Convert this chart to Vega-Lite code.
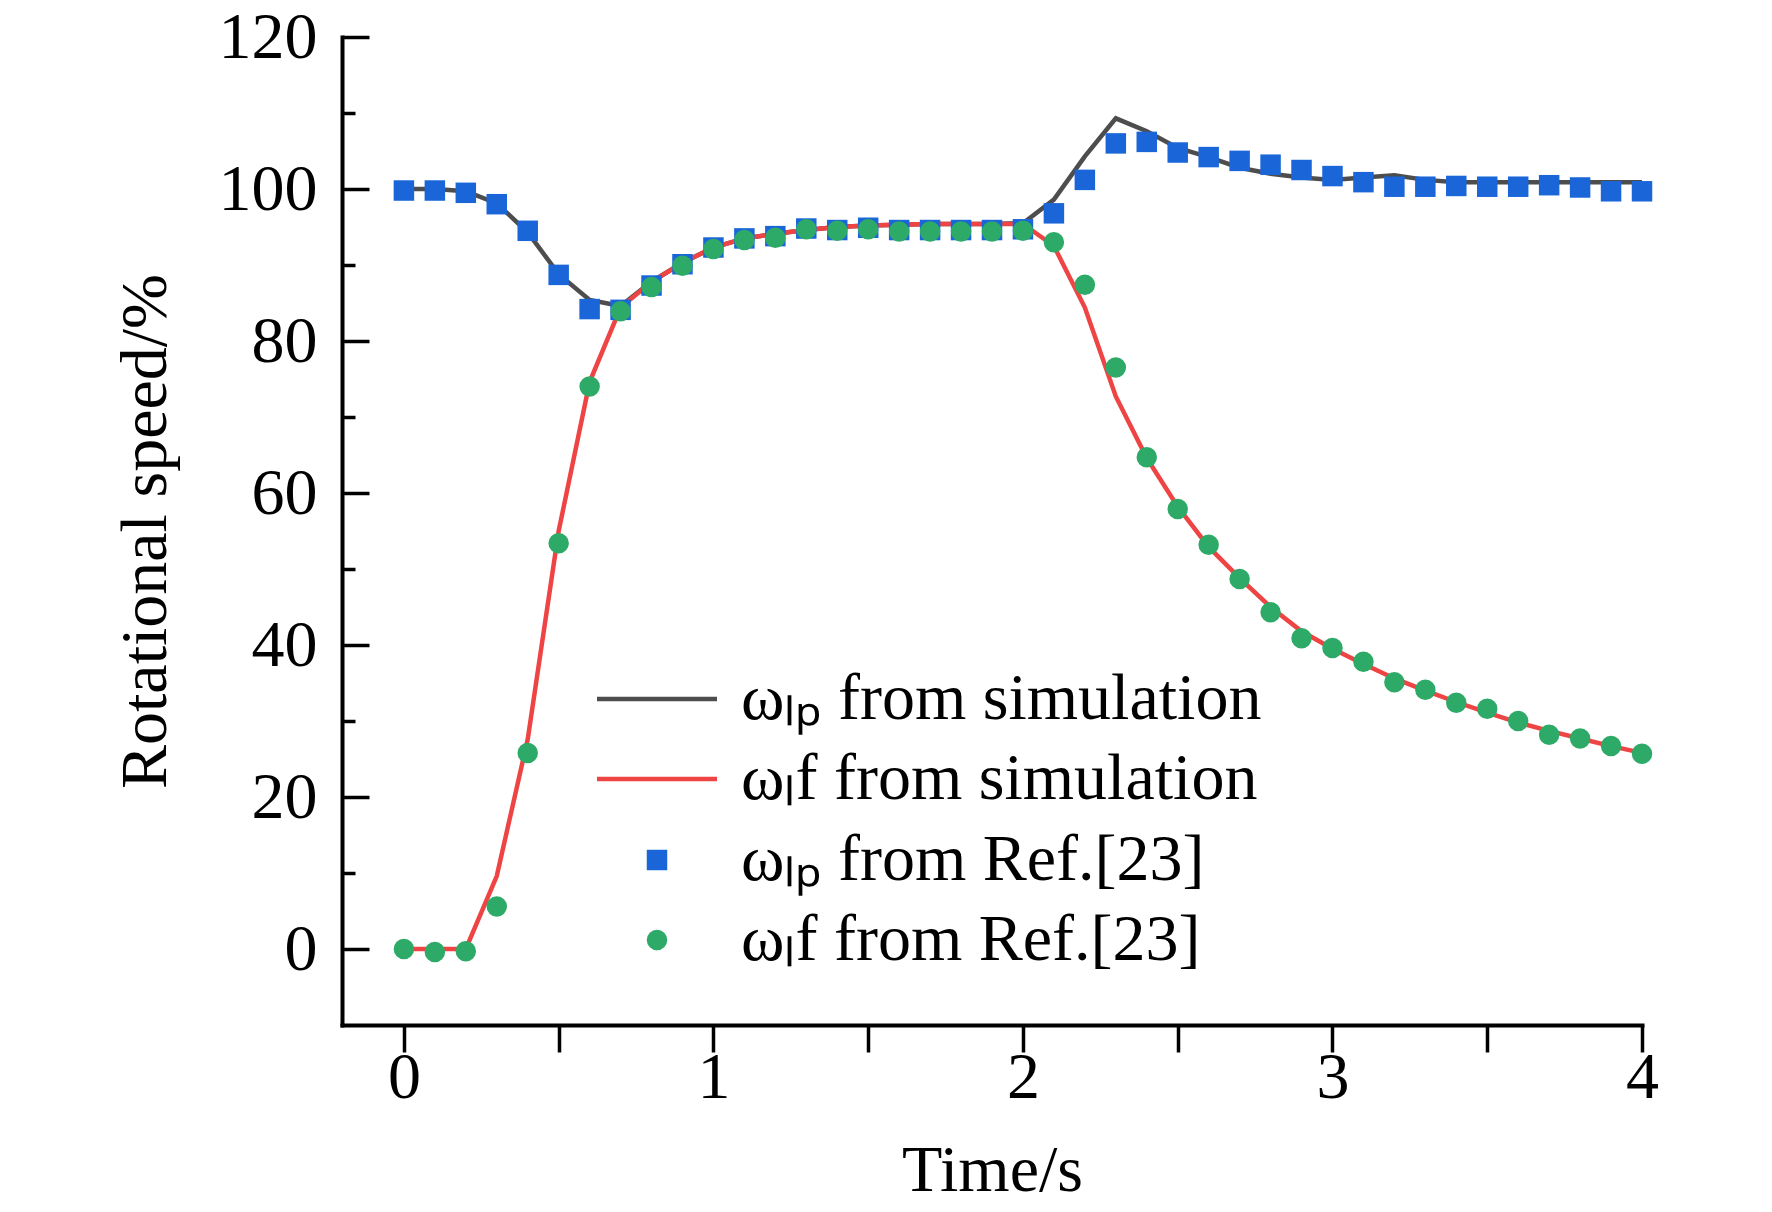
{
  "$schema": "https://vega.github.io/schema/vega-lite/v6.json",
  "width": 1300,
  "height": 988,
  "autosize": {"type": "none"},
  "padding": {"left": 342, "top": 37, "right": 130, "bottom": 187},
  "background": "white",
  "config": {
    "view": {"stroke": null},
    "font": "Liberation Serif",
    "axis": {
      "grid": false,
      "domainColor": "black",
      "domainWidth": 4,
      "domainCap": "square",
      "tickColor": "black",
      "tickWidth": 3.5,
      "labelColor": "black",
      "labelFont": "Liberation Serif",
      "labelFontSize": 66,
      "labelFlush": false,
      "labelOverlap": false,
      "labelBound": false,
      "titleColor": "black",
      "titleFont": "Liberation Serif",
      "titleFontSize": 66,
      "titleFontWeight": "normal"
    },
    "legend": {
      "title": null,
      "orient": "none",
      "padding": 0,
      "labelFont": "Liberation Serif",
      "labelFontSize": 66,
      "labelColor": "black",
      "labelLimit": 1000,
      "labelOffset": 51,
      "rowPadding": 14
    }
  },
  "datasets": {
    "simulation": [
      {"time": 0.0, "speed": 100.0, "series": "lp"},
      {"time": 0.1, "speed": 100.0, "series": "lp"},
      {"time": 0.2, "speed": 99.7, "series": "lp"},
      {"time": 0.3, "speed": 98.1, "series": "lp"},
      {"time": 0.4, "speed": 94.3, "series": "lp"},
      {"time": 0.5, "speed": 88.8, "series": "lp"},
      {"time": 0.6, "speed": 85.4, "series": "lp"},
      {"time": 0.7, "speed": 84.6, "series": "lp"},
      {"time": 0.8, "speed": 87.8, "series": "lp"},
      {"time": 0.9, "speed": 90.3, "series": "lp"},
      {"time": 1.0, "speed": 92.3, "series": "lp"},
      {"time": 1.1, "speed": 93.5, "series": "lp"},
      {"time": 1.2, "speed": 94.1, "series": "lp"},
      {"time": 1.3, "speed": 94.6, "series": "lp"},
      {"time": 1.4, "speed": 95.0, "series": "lp"},
      {"time": 1.5, "speed": 95.2, "series": "lp"},
      {"time": 1.6, "speed": 95.3, "series": "lp"},
      {"time": 1.7, "speed": 95.4, "series": "lp"},
      {"time": 1.8, "speed": 95.4, "series": "lp"},
      {"time": 1.9, "speed": 95.4, "series": "lp"},
      {"time": 2.0, "speed": 95.5, "series": "lp"},
      {"time": 2.1, "speed": 98.6, "series": "lp"},
      {"time": 2.2, "speed": 104.3, "series": "lp"},
      {"time": 2.3, "speed": 109.3, "series": "lp"},
      {"time": 2.4, "speed": 107.6, "series": "lp"},
      {"time": 2.5, "speed": 105.4, "series": "lp"},
      {"time": 2.6, "speed": 104.2, "series": "lp"},
      {"time": 2.7, "speed": 102.8, "series": "lp"},
      {"time": 2.8, "speed": 102.0, "series": "lp"},
      {"time": 2.9, "speed": 101.5, "series": "lp"},
      {"time": 3.0, "speed": 101.2, "series": "lp"},
      {"time": 3.1, "speed": 101.5, "series": "lp"},
      {"time": 3.2, "speed": 101.8, "series": "lp"},
      {"time": 3.3, "speed": 101.2, "series": "lp"},
      {"time": 3.4, "speed": 100.9, "series": "lp"},
      {"time": 3.5, "speed": 100.9, "series": "lp"},
      {"time": 3.6, "speed": 100.9, "series": "lp"},
      {"time": 3.7, "speed": 100.9, "series": "lp"},
      {"time": 3.8, "speed": 100.9, "series": "lp"},
      {"time": 3.9, "speed": 100.9, "series": "lp"},
      {"time": 4.0, "speed": 100.9, "series": "lp"},
      {"time": 0.0, "speed": 0.0, "series": "lf"},
      {"time": 0.1, "speed": 0.0, "series": "lf"},
      {"time": 0.2, "speed": 0.0, "series": "lf"},
      {"time": 0.3, "speed": 9.6, "series": "lf"},
      {"time": 0.4, "speed": 27.6, "series": "lf"},
      {"time": 0.5, "speed": 55.0, "series": "lf"},
      {"time": 0.6, "speed": 74.6, "series": "lf"},
      {"time": 0.7, "speed": 84.4, "series": "lf"},
      {"time": 0.8, "speed": 87.8, "series": "lf"},
      {"time": 0.9, "speed": 90.3, "series": "lf"},
      {"time": 1.0, "speed": 92.3, "series": "lf"},
      {"time": 1.1, "speed": 93.5, "series": "lf"},
      {"time": 1.2, "speed": 94.1, "series": "lf"},
      {"time": 1.3, "speed": 94.6, "series": "lf"},
      {"time": 1.4, "speed": 95.0, "series": "lf"},
      {"time": 1.5, "speed": 95.2, "series": "lf"},
      {"time": 1.6, "speed": 95.3, "series": "lf"},
      {"time": 1.7, "speed": 95.4, "series": "lf"},
      {"time": 1.8, "speed": 95.4, "series": "lf"},
      {"time": 1.9, "speed": 95.4, "series": "lf"},
      {"time": 2.0, "speed": 95.4, "series": "lf"},
      {"time": 2.1, "speed": 92.5, "series": "lf"},
      {"time": 2.2, "speed": 84.4, "series": "lf"},
      {"time": 2.3, "speed": 72.7, "series": "lf"},
      {"time": 2.4, "speed": 64.6, "series": "lf"},
      {"time": 2.5, "speed": 58.2, "series": "lf"},
      {"time": 2.6, "speed": 52.9, "series": "lf"},
      {"time": 2.7, "speed": 48.8, "series": "lf"},
      {"time": 2.8, "speed": 45.0, "series": "lf"},
      {"time": 2.9, "speed": 41.8, "series": "lf"},
      {"time": 3.0, "speed": 39.5, "series": "lf"},
      {"time": 3.1, "speed": 37.5, "series": "lf"},
      {"time": 3.2, "speed": 35.6, "series": "lf"},
      {"time": 3.3, "speed": 34.0, "series": "lf"},
      {"time": 3.4, "speed": 32.5, "series": "lf"},
      {"time": 3.5, "speed": 31.1, "series": "lf"},
      {"time": 3.6, "speed": 29.8, "series": "lf"},
      {"time": 3.7, "speed": 28.7, "series": "lf"},
      {"time": 3.8, "speed": 27.7, "series": "lf"},
      {"time": 3.9, "speed": 26.7, "series": "lf"},
      {"time": 4.0, "speed": 25.8, "series": "lf"}
    ],
    "reference": [
      {"time": 0.0, "speed": 99.8, "series": "lp"},
      {"time": 0.0, "speed": 0.0, "series": "lf"},
      {"time": 0.1, "speed": 99.8, "series": "lp"},
      {"time": 0.1, "speed": -0.4, "series": "lf"},
      {"time": 0.2, "speed": 99.5, "series": "lp"},
      {"time": 0.2, "speed": -0.3, "series": "lf"},
      {"time": 0.3, "speed": 98.0, "series": "lp"},
      {"time": 0.3, "speed": 5.6, "series": "lf"},
      {"time": 0.4, "speed": 94.5, "series": "lp"},
      {"time": 0.4, "speed": 25.8, "series": "lf"},
      {"time": 0.5, "speed": 88.7, "series": "lp"},
      {"time": 0.5, "speed": 53.4, "series": "lf"},
      {"time": 0.6, "speed": 84.2, "series": "lp"},
      {"time": 0.6, "speed": 74.0, "series": "lf"},
      {"time": 0.7, "speed": 84.1, "series": "lp"},
      {"time": 0.7, "speed": 83.9, "series": "lf"},
      {"time": 0.8, "speed": 87.3, "series": "lp"},
      {"time": 0.8, "speed": 87.1, "series": "lf"},
      {"time": 0.9, "speed": 90.1, "series": "lp"},
      {"time": 0.9, "speed": 89.9, "series": "lf"},
      {"time": 1.0, "speed": 92.3, "series": "lp"},
      {"time": 1.0, "speed": 92.1, "series": "lf"},
      {"time": 1.1, "speed": 93.5, "series": "lp"},
      {"time": 1.1, "speed": 93.3, "series": "lf"},
      {"time": 1.2, "speed": 93.8, "series": "lp"},
      {"time": 1.2, "speed": 93.6, "series": "lf"},
      {"time": 1.3, "speed": 94.8, "series": "lp"},
      {"time": 1.3, "speed": 94.7, "series": "lf"},
      {"time": 1.4, "speed": 94.6, "series": "lp"},
      {"time": 1.4, "speed": 94.5, "series": "lf"},
      {"time": 1.5, "speed": 94.9, "series": "lp"},
      {"time": 1.5, "speed": 94.7, "series": "lf"},
      {"time": 1.6, "speed": 94.6, "series": "lp"},
      {"time": 1.6, "speed": 94.4, "series": "lf"},
      {"time": 1.7, "speed": 94.6, "series": "lp"},
      {"time": 1.7, "speed": 94.4, "series": "lf"},
      {"time": 1.8, "speed": 94.6, "series": "lp"},
      {"time": 1.8, "speed": 94.4, "series": "lf"},
      {"time": 1.9, "speed": 94.6, "series": "lp"},
      {"time": 1.9, "speed": 94.4, "series": "lf"},
      {"time": 2.0, "speed": 94.7, "series": "lp"},
      {"time": 2.0, "speed": 94.5, "series": "lf"},
      {"time": 2.1, "speed": 96.8, "series": "lp"},
      {"time": 2.1, "speed": 93.0, "series": "lf"},
      {"time": 2.2, "speed": 101.2, "series": "lp"},
      {"time": 2.2, "speed": 87.4, "series": "lf"},
      {"time": 2.3, "speed": 106.0, "series": "lp"},
      {"time": 2.3, "speed": 76.5, "series": "lf"},
      {"time": 2.4, "speed": 106.2, "series": "lp"},
      {"time": 2.4, "speed": 64.7, "series": "lf"},
      {"time": 2.5, "speed": 104.8, "series": "lp"},
      {"time": 2.5, "speed": 57.9, "series": "lf"},
      {"time": 2.6, "speed": 104.2, "series": "lp"},
      {"time": 2.6, "speed": 53.2, "series": "lf"},
      {"time": 2.7, "speed": 103.7, "series": "lp"},
      {"time": 2.7, "speed": 48.7, "series": "lf"},
      {"time": 2.8, "speed": 103.2, "series": "lp"},
      {"time": 2.8, "speed": 44.3, "series": "lf"},
      {"time": 2.9, "speed": 102.5, "series": "lp"},
      {"time": 2.9, "speed": 40.9, "series": "lf"},
      {"time": 3.0, "speed": 101.7, "series": "lp"},
      {"time": 3.0, "speed": 39.6, "series": "lf"},
      {"time": 3.1, "speed": 100.9, "series": "lp"},
      {"time": 3.1, "speed": 37.8, "series": "lf"},
      {"time": 3.2, "speed": 100.3, "series": "lp"},
      {"time": 3.2, "speed": 35.1, "series": "lf"},
      {"time": 3.3, "speed": 100.3, "series": "lp"},
      {"time": 3.3, "speed": 34.1, "series": "lf"},
      {"time": 3.4, "speed": 100.4, "series": "lp"},
      {"time": 3.4, "speed": 32.4, "series": "lf"},
      {"time": 3.5, "speed": 100.3, "series": "lp"},
      {"time": 3.5, "speed": 31.6, "series": "lf"},
      {"time": 3.6, "speed": 100.3, "series": "lp"},
      {"time": 3.6, "speed": 30.0, "series": "lf"},
      {"time": 3.7, "speed": 100.5, "series": "lp"},
      {"time": 3.7, "speed": 28.2, "series": "lf"},
      {"time": 3.8, "speed": 100.2, "series": "lp"},
      {"time": 3.8, "speed": 27.7, "series": "lf"},
      {"time": 3.9, "speed": 99.7, "series": "lp"},
      {"time": 3.9, "speed": 26.7, "series": "lf"},
      {"time": 4.0, "speed": 99.7, "series": "lp"},
      {"time": 4.0, "speed": 25.7, "series": "lf"}
    ]
  },
  "encoding": {
    "x": {
      "field": "time",
      "type": "quantitative",
      "scale": {"domain": [-0.2, 4], "nice": false, "zero": false},
      "axis": {
        "title": "Time/s",
        "values": [0, 0.5, 1, 1.5, 2, 2.5, 3, 3.5, 4],
        "labelExpr": "datum.value % 1 === 0 ? '' + datum.value : ''",
        "tickSize": 27,
        "labelPadding": -7,
        "titlePadding": 28,
        "encode": {"ticks": {"update": {"y2": {"signal": "datum.value % 1 === 0 ? -27 : -13"}}}}
      }
    },
    "y": {
      "field": "speed",
      "type": "quantitative",
      "scale": {"domain": [-10, 120], "nice": false, "zero": false},
      "axis": {
        "title": "Rotational speed/%",
        "values": [0, 10, 20, 30, 40, 50, 60, 70, 80, 90, 100, 110, 120],
        "labelExpr": "datum.value % 20 === 0 ? '' + datum.value : ''",
        "tickSize": {"expr": "datum.value % 20 === 0 ? -27 : -13"},
        "labelPadding": 52,
        "titlePadding": 39
      }
    }
  },
  "layer": [
    {
      "data": {"name": "simulation"},
      "mark": {"type": "line", "strokeWidth": 4.5},
      "encoding": {
        "color": {
          "field": "series",
          "type": "nominal",
          "scale": {"domain": ["lp", "lf"], "range": ["#4d4d4d", "#ef4444"]},
          "legend": {
            "legendX": 282,
            "legendY": 629,
            "symbolType": "M-3,0H3",
            "symbolSize": 1600,
            "symbolStrokeWidth": 4.5,
            "labelExpr": "datum.value === 'lp' ? 'ωₗₚ from simulation' : 'ωₗf from simulation'"
          }
        }
      }
    },
    {
      "data": {"name": "reference"},
      "mark": {"type": "point", "filled": true, "size": 420, "opacity": 1},
      "encoding": {
        "color": {
          "field": "series",
          "type": "nominal",
          "scale": {"domain": ["lp", "lf"], "range": ["#1a66d9", "#2eaa68"]},
          "legend": {
            "legendX": 282,
            "legendY": 790,
            "symbolSize": 420,
            "symbolOpacity": 1,
            "labelExpr": "datum.value === 'lp' ? 'ωₗₚ from Ref.[23]' : 'ωₗf from Ref.[23]'"
          }
        },
        "shape": {
          "field": "series",
          "type": "nominal",
          "scale": {"domain": ["lp", "lf"], "range": ["square", "circle"]},
          "legend": {
            "legendX": 282,
            "legendY": 790,
            "symbolSize": 420,
            "symbolOpacity": 1,
            "labelExpr": "datum.value === 'lp' ? 'ωₗₚ from Ref.[23]' : 'ωₗf from Ref.[23]'"
          }
        }
      }
    }
  ],
  "resolve": {"scale": {"color": "independent", "shape": "independent"}}
}
